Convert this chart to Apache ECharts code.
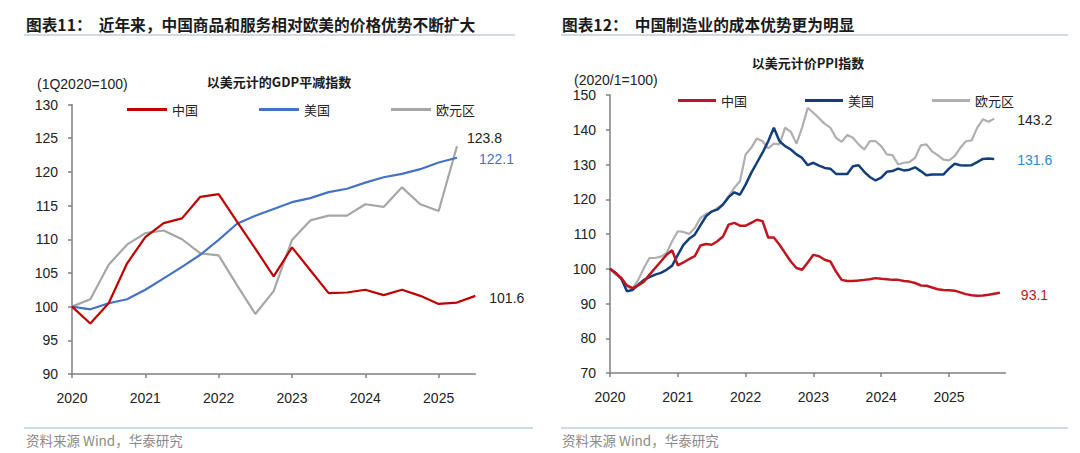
<!DOCTYPE html>
<html>
<head>
<meta charset="utf-8">
<script src="https://cdn.jsdelivr.net/npm/echarts@6/dist/echarts.min.js"></script>
<style>
html,body{margin:0;padding:0;background:#fff;}
#c{width:1080px;height:453px;}
</style>
</head>
<body>
<div id="c"></div>
<script>
// ---- Left chart: GDP deflator in USD (quarterly, 1Q2020=100)
const gdpQuarters = ['2020Q1','2020Q2','2020Q3','2020Q4','2021Q1','2021Q2','2021Q3','2021Q4','2022Q1','2022Q2','2022Q3','2022Q4','2023Q1','2023Q2','2023Q3','2023Q4','2024Q1','2024Q2','2024Q3','2024Q4','2025Q1','2025Q2','2025Q3'];
const chinaGDP = [100, 97.5, 100.5, 106.4, 110.3, 112.4, 113.1, 116.3, 116.7, 112.6, 108.6, 104.5, 108.8, 105.4, 102.0, 102.1, 102.5, 101.7, 102.5, 101.6, 100.4, 100.6, 101.6];
const usGDP    = [100, 99.6, 100.5, 101.1, 102.5, 104.2, 105.9, 107.7, 109.9, 112.3, 113.5, 114.5, 115.5, 116.1, 117.0, 117.5, 118.4, 119.2, 119.7, 120.4, 121.4, 122.1];
const euGDP    = [100, 101.1, 106.2, 109.2, 110.9, 111.3, 110.0, 107.9, 107.6, 103.2, 98.9, 102.3, 109.9, 112.8, 113.5, 113.5, 115.2, 114.8, 117.7, 115.2, 114.2, 123.8];
const gdpYearTicks = ['2020','2021','2022','2023','2024','2025'];

// ---- Right chart: PPI in USD (monthly, 2020/1=100)
const ppiYearTicks = ['2020','2021','2022','2023','2024','2025'];
const ppiMonths = [];
for (const y of ppiYearTicks) { for (let m = 1; m <= 12; m++) { if (y === '2025' && m > 11) break; ppiMonths.push(y + '/' + m); } }
const chinaPPI = [100, 98.8, 97.3, 95.2, 94.4, 95.2, 96.3, 98.3, 100.2, 102.1, 104.0, 105.3,
  101.0, 101.8, 102.8, 103.6, 106.7, 107.1, 106.9, 107.9, 109.3, 112.7, 113.2, 112.4,
  112.4, 113.2, 114.1, 113.7, 109.0, 109.0, 106.9, 104.5, 102.1, 100.2, 99.7, 101.8,
  104.0, 103.6, 102.6, 102.1, 99.2, 96.8, 96.5, 96.5, 96.6, 96.8, 97.0, 97.3,
  97.1, 97.0, 96.8, 96.8, 96.5, 96.3, 95.9, 95.2, 95.1, 94.6, 94.1, 93.9,
  93.8, 93.7, 93.2, 92.7, 92.4, 92.2, 92.3, 92.5, 92.8, 93.1];
const usPPI = [100, 98.8, 97.1, 93.5, 93.9, 95.4, 96.8, 97.6, 98.3, 98.8, 99.7, 100.9,
  104.0, 106.9, 108.6, 109.8, 112.5, 115.1, 116.5, 117.0, 118.5, 120.6, 122.0, 121.3,
  124.2, 127.6, 130.5, 133.4, 136.7, 140.6, 136.7, 135.3, 134.3, 132.9, 131.9, 129.8,
  130.5, 129.7, 129.0, 128.8, 127.3, 127.3, 127.3, 129.5, 129.8, 127.9, 126.4, 125.4,
  126.2, 127.9, 128.1, 128.8, 128.3, 128.5, 129.2, 128.1, 126.9, 127.1, 127.1, 127.1,
  128.8, 130.2, 129.8, 129.7, 129.8, 130.7, 131.6, 131.7, 131.6];
const euPPI = [100, 98.3, 97.5, 94.9, 94.2, 96.8, 100.2, 103.1, 103.1, 103.5, 104.5, 107.9,
  110.8, 110.6, 110.0, 111.7, 114.6, 115.8, 116.3, 117.5, 118.5, 120.9, 123.3, 125.2,
  132.9, 134.8, 137.5, 136.7, 134.6, 136.0, 135.8, 140.6, 139.4, 136.0, 140.6, 146.3,
  144.9, 143.3, 141.7, 140.6, 137.7, 136.5, 138.5, 137.7, 135.8, 134.3, 136.7, 136.7,
  135.3, 132.9, 132.7, 130.0, 130.5, 130.7, 131.9, 135.5, 135.8, 133.8, 132.7, 131.4,
  131.2, 132.4, 134.8, 136.7, 136.9, 140.6, 143.0, 142.3, 143.2];

const seriesNames = ['中国', '美国', '欧元区'];

const AX = "'Liberation Sans', Arial, sans-serif";
const CJK = "'Noto Sans CJK SC', sans-serif";
const axisColor = '#808080';
const txt = '#222';

function yAxisCfg(gridIndex, min, max, interval) {
  return {
    type: 'value', gridIndex, min, max, interval,
    axisLine: { show: true, lineStyle: { color: axisColor, width: 1.5 } },
    axisTick: { show: true, inside: false, length: 4, lineStyle: { color: axisColor, width: 1.5 } },
    splitLine: { show: false },
    axisLabel: { color: txt, fontSize: 14, fontFamily: AX, margin: 14 }
  };
}

function endLabel(color, offset) {
  return { show: true, color, fontSize: 14, fontFamily: AX, offset, formatter: p => p.value.toFixed(1) };
}

const option = {
  animation: false,
  backgroundColor: '#fff',
  grid: [
    { left: 72, right: 604.7, top: 104.5, bottom: 79 },
    { left: 610, right: 74.5, top: 95, bottom: 80 }
  ],
  xAxis: [
    {
      type: 'category', gridIndex: 0, data: gdpQuarters, boundaryGap: false,
      axisLine: { lineStyle: { color: axisColor, width: 1.5 } },
      axisTick: { interval: i => i % 4 === 0, length: 4, lineStyle: { color: axisColor, width: 1.5 } },
      axisLabel: { interval: i => i % 4 === 0, color: txt, fontSize: 14, fontFamily: AX, margin: 17,
        formatter: (v, i) => gdpYearTicks[i / 4] }
    },
    {
      type: 'category', gridIndex: 1, data: ppiMonths, boundaryGap: false,
      axisLine: { lineStyle: { color: axisColor, width: 1.5 } },
      axisTick: { interval: i => i % 12 === 0, length: 4, lineStyle: { color: axisColor, width: 1.5 } },
      axisLabel: { interval: i => i % 12 === 0, color: txt, fontSize: 14, fontFamily: AX, margin: 17,
        formatter: (v, i) => ppiYearTicks[i / 12] }
    }
  ],
  yAxis: [yAxisCfg(0, 90, 130, 5), yAxisCfg(1, 70, 150, 10)],
  legend: [
    {
      data: seriesNames, left: 122, top: 98, icon: 'rect', itemWidth: 40, itemHeight: 3, itemGap: 61,
      textStyle: { fontSize: 13, fontFamily: CJK, color: '#222' }
    },
    {
      data: seriesNames.map(n => 'PPI' + n), formatter: n => n.replace('PPI', ''),
      left: 673, top: 89, icon: 'rect', itemWidth: 38, itemHeight: 3, itemGap: 58,
      textStyle: { fontSize: 13, fontFamily: CJK, color: '#222' }
    }
  ],
  series: [
    { name: '中国', type: 'line', xAxisIndex: 0, yAxisIndex: 0, data: chinaGDP, symbol: 'none', color: '#C00000',
      lineStyle: { width: 2.2, color: '#C00000' }, endLabel: endLabel('#222', [6, 2]), z: 3 },
    { name: '美国', type: 'line', xAxisIndex: 0, yAxisIndex: 0, data: usGDP, symbol: 'none', color: '#4472C4',
      lineStyle: { width: 2.2, color: '#4472C4' }, endLabel: endLabel('#4472C4', [14, 1]), z: 2 },
    { name: '欧元区', type: 'line', xAxisIndex: 0, yAxisIndex: 0, data: euGDP, symbol: 'none', color: '#A6A6A6',
      lineStyle: { width: 2.2, color: '#A6A6A6' }, endLabel: endLabel('#222', [2, -8]), z: 1 },
    { name: 'PPI中国', type: 'line', xAxisIndex: 1, yAxisIndex: 1, data: chinaPPI, symbol: 'none', color: '#C0141E',
      lineStyle: { width: 2.5, color: '#C0141E' }, endLabel: endLabel('#C0141E', [13, 2]), z: 3 },
    { name: 'PPI美国', type: 'line', xAxisIndex: 1, yAxisIndex: 1, data: usPPI, symbol: 'none', color: '#123F7C',
      lineStyle: { width: 2.5, color: '#123F7C' }, endLabel: endLabel('#2E86D1', [15, 1]), z: 2 },
    { name: 'PPI欧元区', type: 'line', xAxisIndex: 1, yAxisIndex: 1, data: euPPI, symbol: 'none', color: '#AFAFAF',
      lineStyle: { width: 2.2, color: '#AFAFAF' }, endLabel: endLabel('#222', [15, 1]), z: 1 }
  ],
  graphic: [
    // titles
    { type: 'text', left: 26, top: 17, style: { text: '图表11：  近年来，中国商品和服务相对欧美的价格优势不断扩大', font: "bold 15.7px 'Noto Sans CJK SC', sans-serif", fill: '#1a1a1a' } },
    { type: 'line', shape: { x1: 24, y1: 35, x2: 515, y2: 35 }, style: { stroke: '#9FB6D2', lineWidth: 1.2 } },
    { type: 'text', left: 562, top: 17, style: { text: '图表12：  中国制造业的成本优势更为明显', font: "bold 15.7px 'Noto Sans CJK SC', sans-serif", fill: '#1a1a1a' } },
    { type: 'line', shape: { x1: 561, y1: 35, x2: 1068, y2: 35 }, style: { stroke: '#9FB6D2', lineWidth: 1.2 } },
    // subtitles
    { type: 'text', x: 279, y: 81, style: { text: '以美元计的GDP平减指数', font: "bold 13px 'Noto Sans CJK SC', sans-serif", fill: '#1a1a1a', textAlign: 'center', textVerticalAlign: 'middle', align: 'center', verticalAlign: 'middle' } },
    { type: 'text', x: 808, y: 62, style: { text: '以美元计价PPI指数', font: "bold 13px 'Noto Sans CJK SC', sans-serif", fill: '#1a1a1a', textAlign: 'center', textVerticalAlign: 'middle', align: 'center', verticalAlign: 'middle' } },
    // unit labels
    { type: 'text', x: 37, y: 84, style: { text: '(1Q2020=100)', font: "14px 'Liberation Sans', Arial, sans-serif", fill: txt, textVerticalAlign: 'middle', verticalAlign: 'middle' } },
    { type: 'text', x: 574, y: 80, style: { text: '(2020/1=100)', font: "14px 'Liberation Sans', Arial, sans-serif", fill: txt, textVerticalAlign: 'middle', verticalAlign: 'middle' } },
    // footers
    { type: 'line', shape: { x1: 24, y1: 428, x2: 533, y2: 428 }, style: { stroke: '#9FB6D2', lineWidth: 1 } },
    { type: 'line', shape: { x1: 561, y1: 428, x2: 1068, y2: 428 }, style: { stroke: '#9FB6D2', lineWidth: 1 } },
    { type: 'text', x: 26, y: 440, style: { text: '资料来源 Wind，华泰研究', font: "13.5px 'Noto Sans CJK SC', sans-serif", fill: '#8a8a8a', textVerticalAlign: 'middle', verticalAlign: 'middle' } },
    { type: 'text', x: 562, y: 440, style: { text: '资料来源 Wind，华泰研究', font: "13.5px 'Noto Sans CJK SC', sans-serif", fill: '#8a8a8a', textVerticalAlign: 'middle', verticalAlign: 'middle' } }
  ]
};

const chart = echarts.init(document.getElementById('c'), null, { renderer: 'svg', width: 1080, height: 453 });
chart.setOption(option);
</script>
</body>
</html>
